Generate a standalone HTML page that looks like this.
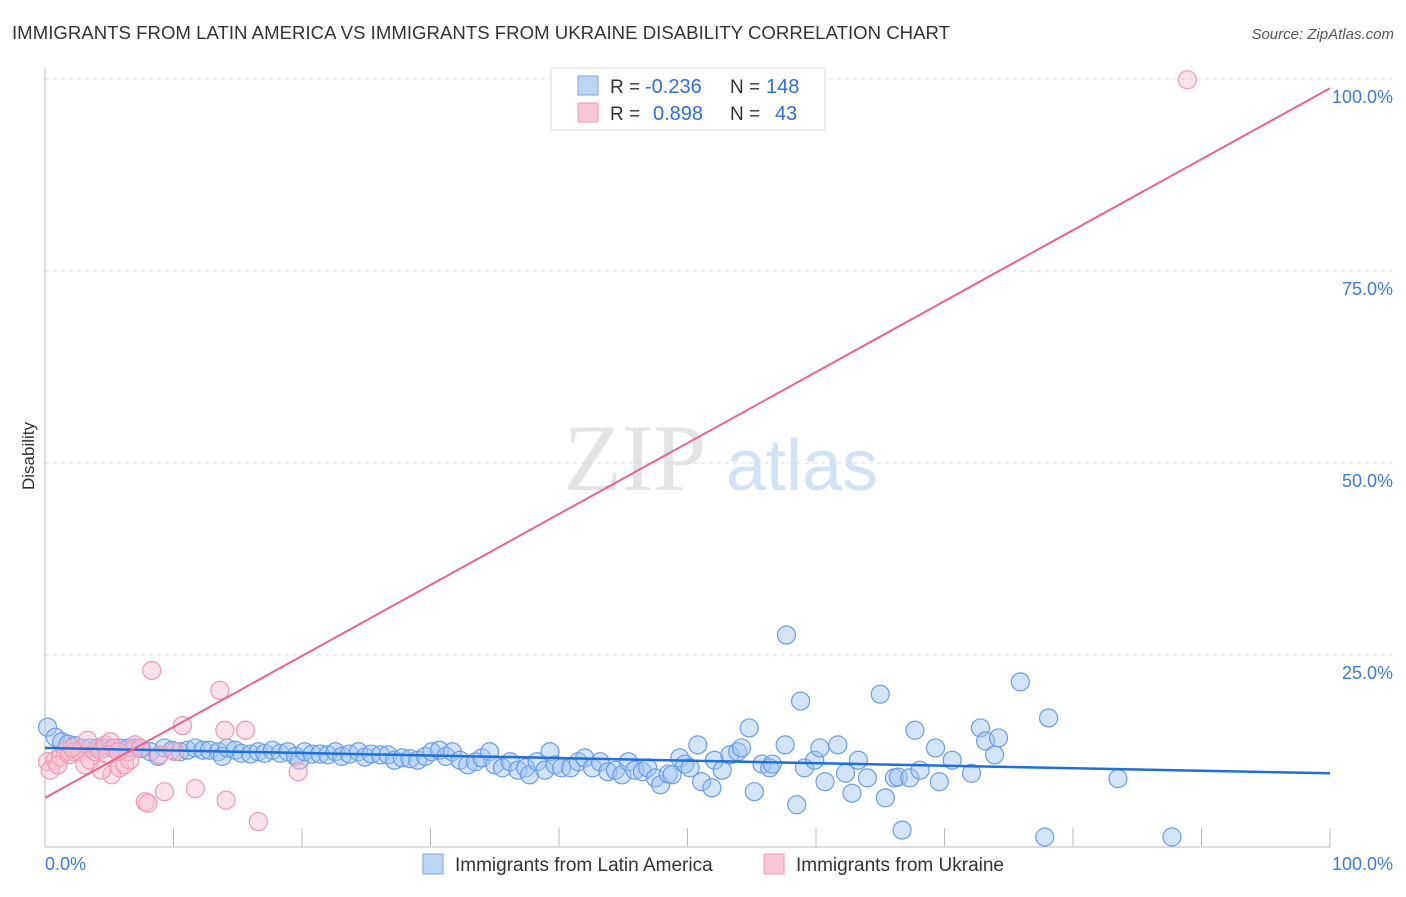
<!DOCTYPE html>
<html><head><meta charset="utf-8"><style>
body{margin:0;background:#fff;font-family:"Liberation Sans",sans-serif;}
svg text{font-family:"Liberation Sans",sans-serif;}
</style></head><body>
<svg id="chart" width="1406" height="892">
<text x="12" y="39" font-size="18.6" fill="#333" textLength="938">IMMIGRANTS FROM LATIN AMERICA VS IMMIGRANTS FROM UKRAINE DISABILITY CORRELATION CHART</text>
<text x="1394" y="39" font-size="15" fill="#555" font-style="italic" text-anchor="end">Source: ZipAtlas.com</text>
<text transform="translate(34,456) rotate(-90)" font-size="17" fill="#333" text-anchor="middle">Disability</text>
<g>
<text x="635" y="490" font-size="95" fill="#e4e4e4" font-family="Liberation Serif" text-anchor="middle" style="font-family:'Liberation Serif',serif">ZIP</text>
<text x="802" y="490" font-size="72" fill="#d4e2f5" text-anchor="middle">atlas</text>
</g>
<g id="grid"></g>
<g id="axes"></g>
<g id="points"></g>
<g id="trends"></g>
<g>
<rect x="551" y="68" width="274" height="62" fill="#fff" stroke="#ddd"/>
<rect x="578" y="76" width="20" height="19" fill="#bcd5f5" stroke="#7aa6e3"/>
<rect x="578" y="103" width="20" height="19" fill="#f9c8d6" stroke="#ee9ab2"/>
<text x="610" y="93" font-size="19" fill="#333">R =</text>
<text x="645" y="93" font-size="20" fill="#2f6fd6">-0.236</text>
<text x="730" y="93" font-size="19" fill="#333">N =</text>
<text x="766" y="93" font-size="20" fill="#2f6fd6">148</text>
<text x="610" y="120" font-size="19" fill="#333">R =</text>
<text x="653" y="120" font-size="20" fill="#2f6fd6">0.898</text>
<text x="730" y="120" font-size="19" fill="#333">N =</text>
<text x="775" y="120" font-size="20" fill="#2f6fd6">43</text>
</g>
<g>
<rect x="423" y="854" width="20" height="20" fill="#bcd5f5" stroke="#7aa6e3"/>
<text x="455" y="871" font-size="19" fill="#333">Immigrants from Latin America</text>
<rect x="764" y="854" width="20" height="20" fill="#f9c8d6" stroke="#ee9ab2"/>
<text x="796" y="871" font-size="19" fill="#333">Immigrants from Ukraine</text>
</g>
</svg>
<script>
const blueX=[0.2,0.8,1.3,1.8,2.3,2.9,3.5,4.1,4.7,5.2,5.8,6.5,7.0,7.5,8.2,8.8,9.3,9.9,10.5,11.1,11.7,12.3,12.8,13.5,13.8,14.2,14.8,15.3,16.0,16.6,17.1,17.7,18.3,18.9,19.5,19.8,20.2,20.8,21.4,22.0,22.6,23.1,23.7,24.4,24.9,25.4,26.1,26.7,27.2,27.8,28.4,29.0,29.6,30.1,30.7,31.2,31.7,32.3,32.9,33.5,34.0,34.6,35.0,35.6,36.2,36.8,37.4,37.7,38.3,38.9,39.3,39.7,40.2,40.9,41.5,42.0,42.6,43.2,43.8,44.4,44.9,45.4,45.9,46.5,46.9,47.5,47.9,48.5,48.8,49.4,49.8,50.2,50.8,51.1,51.9,52.1,52.7,53.3,53.9,54.2,54.8,55.2,55.8,56.4,56.6,57.6,57.7,58.5,58.8,59.1,59.9,60.3,60.7,61.7,62.3,62.8,63.3,64.0,65.0,65.4,66.1,66.4,66.7,67.3,67.7,68.1,69.3,69.6,70.6,72.1,72.8,73.2,73.9,74.2,75.9,77.8,78.1,83.5,87.7];
const blueY=[15.6,14.3,13.7,13.4,13.2,12.9,12.9,12.9,12.9,12.9,12.9,12.9,12.9,12.8,12.4,11.8,12.9,12.6,12.4,12.6,12.9,12.6,12.6,12.4,11.8,12.9,12.6,12.2,12.1,12.4,12.2,12.6,12.2,12.4,11.8,11.3,12.4,12.1,12.1,12.0,12.4,11.8,12.1,12.4,11.7,12.1,12.0,12.0,11.3,11.6,11.5,11.3,11.8,12.4,12.6,11.8,12.4,11.3,10.7,11.1,11.6,12.4,10.7,10.3,11.1,10.0,10.3,9.4,11.1,10.0,12.4,10.7,10.3,10.3,11.1,11.6,10.3,11.1,9.8,10.0,9.4,11.1,10.0,9.8,10.3,9.0,8.1,9.5,9.4,11.6,10.8,10.3,13.3,8.5,7.7,11.3,10.0,12.0,12.4,12.9,15.5,7.2,10.8,10.3,10.8,13.3,27.6,5.5,19.0,10.3,11.3,12.9,8.5,13.3,9.6,7.0,11.3,9.0,19.9,6.4,9.0,9.1,2.2,9.0,15.2,10.0,12.9,8.5,11.3,9.6,15.5,13.8,12.0,14.2,21.5,1.3,16.8,8.9,1.3];
const pinkX=[0.2,0.8,1.2,1.6,1.9,2.3,2.7,3.1,3.5,3.9,4.3,4.7,5.1,5.2,5.4,5.8,6.2,6.5,7.0,7.8,8.0,8.3,8.9,9.3,10.1,10.7,11.7,13.6,14.0,14.1,15.6,16.6,19.7,88.9,4.9,6.6,0.4,1.0,2.1,3.3,5.7,7.4,4.4];
const pinkY=[11.1,11.3,11.7,12.4,12.0,12.4,12.4,10.7,11.3,12.4,12.6,13.3,13.7,9.4,12.9,10.3,10.7,12.4,13.3,5.9,5.7,23.0,12.0,7.2,12.4,15.8,7.6,20.4,15.2,6.1,15.2,3.3,9.8,99.9,12.0,11.3,10.0,10.7,12.9,13.9,12.4,12.9,10.0];
const blueTrend=[12.9,9.6];
const pinkTrend=[6.4,98.8];
const yTicks=[25,50,75,100];
const yTickLabels=["25.0%","50.0%","75.0%","100.0%"];
const xTicks=[0,10,20,30,40,50,60,70,80,90,100];
const ns="http://www.w3.org/2000/svg";
const X0=45,X1=1330,Y0=847,Y1=79;
const sx=v=>X0+(X1-X0)*v/100;
const sy=v=>Y0-(Y0-Y1)*v/100;
function mk(tag,attrs,parent){const e=document.createElementNS(ns,tag);for(const k in attrs)e.setAttribute(k,attrs[k]);document.getElementById(parent).appendChild(e);return e;}
yTicks.forEach((t,i)=>{
 const g=mk('line',{x1:X0,x2:1392,y1:sy(t),y2:sy(t),stroke:'#ddd','stroke-dasharray':'4,4'},'grid');
 
 
 const l=mk('text',{x:1393,y:sy(t)+24,'font-size':18,fill:'#3d7bd9','text-anchor':'end'},'axes');
 l.textContent=yTickLabels[i];
 
 
});
const ax=mk('line',{x1:X0,x2:X0,y1:68,y2:Y0,stroke:'#bbb'},'axes');


const bx=mk('line',{x1:X0,x2:X1,y1:Y0,y2:Y0,stroke:'#bbb'},'axes');


xTicks.forEach(t=>{
 const tk=mk('line',{x1:sx(t),x2:sx(t),y1:828,y2:Y0,stroke:'#bbb'},'axes');
 
 
});
const xl0=mk('text',{x:45,y:870,'font-size':18,fill:'#3d7bd9'},'axes');xl0.textContent='0.0%';


const xl1=mk('text',{x:1393,y:870,'font-size':18,fill:'#3d7bd9','text-anchor':'end'},'axes');xl1.textContent='100.0%';


blueX.forEach((v,i)=>{
 const c=mk('circle',{cx:sx(v),cy:sy(blueY[i]),r:9,fill:'rgba(160,196,240,0.45)',stroke:'#6a9ee6','stroke-width':1.2},'points');
 
 
});
pinkX.forEach((v,i)=>{
 const c=mk('circle',{cx:sx(v),cy:sy(pinkY[i]),r:9,fill:'rgba(248,190,208,0.45)',stroke:'#ef9ab3','stroke-width':1.2},'points');
 
 
});
const bt=mk('line',{x1:sx(0),x2:sx(100),y1:sy(blueTrend[0]),y2:sy(blueTrend[1]),stroke:'#1e6fd9','stroke-width':2.5},'trends');


const pt=mk('line',{x1:sx(0),x2:sx(100),y1:sy(pinkTrend[0]),y2:sy(pinkTrend[1]),stroke:'#e8648f','stroke-width':2},'trends');


</script>
</body></html>
